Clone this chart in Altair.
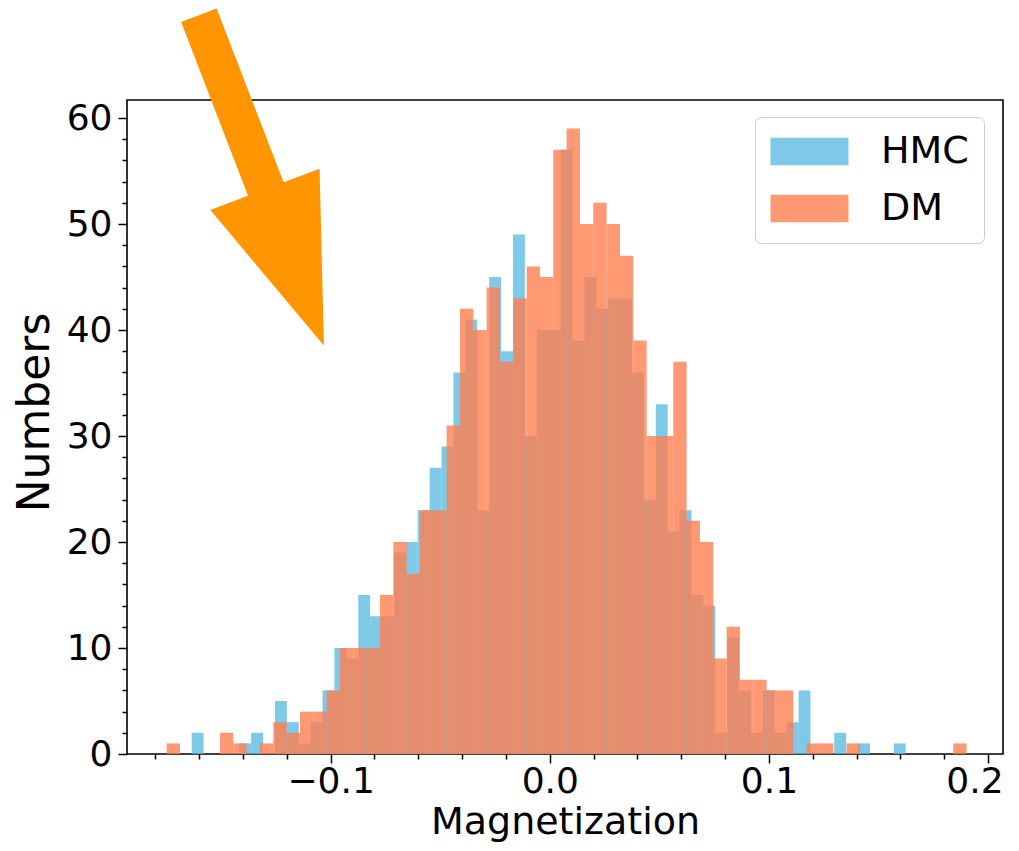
import altair as alt
import numpy as np
import pandas as pd

# ---- data (counts per bin, 60 bins each) ----
hmc_counts = [2, 0, 0, 0, 1, 2, 0, 5, 3, 1,
              3, 6, 10, 9, 15, 13, 13, 19, 20, 23,
              27, 29, 36, 41, 23, 45, 38, 49, 30, 40,
              40, 57, 39, 45, 42, 43, 43, 36, 24, 33,
              21, 23, 15, 14, 2, 11, 6, 2, 6, 2,
              3, 6, 0, 0, 2, 0, 1, 0, 0, 1]
dm_counts = [1, 0, 0, 0, 2, 1, 0, 1, 3, 2,
             4, 4, 6, 10, 10, 10, 15, 20, 17, 23,
             23, 31, 42, 40, 44, 37, 43, 46, 45, 57,
             59, 50, 52, 50, 47, 39, 30, 30, 37, 22,
             20, 9, 12, 7, 7, 6, 6, 0, 1, 1,
             0, 1, 0, 0, 0, 0, 0, 0, 0, 1]
hmc_range = [-0.1634, 0.1624]
dm_range = [-0.1748, 0.1902]
series_names = ["HMC", "DM"]
x_ticks = [round(i * 0.02, 2) for i in range(-9, 11)]
y_ticks = list(range(0, 61, 2))

# arrow annotation (data coordinates)
arrow_shaft_x = [-0.1601, -0.1277]
arrow_shaft_y = [69.7, 52.3]
arrow_head_x = [-0.1165]
arrow_head_y = [45.9]

rows = []
for name, counts, (lo, hi) in [("HMC", hmc_counts, hmc_range), ("DM", dm_counts, dm_range)]:
    edges = np.linspace(lo, hi, len(counts) + 1)
    for i, c in enumerate(counts):
        if c > 0:
            rows.append({"series": name, "start": edges[i], "end": edges[i + 1], "count": c, "zero": 0})
df = pd.DataFrame(rows)
shaft_df = pd.DataFrame({"start": arrow_shaft_x, "count": arrow_shaft_y, "o": [0, 1]})
head_df = pd.DataFrame({"start": arrow_head_x, "count": arrow_head_y})

FONT = "DejaVu Sans"
x_scale = alt.Scale(domain=[-0.1929, 0.2068], nice=False, zero=False)
y_scale = alt.Scale(domain=[0, 61.7], nice=False, zero=False)

x_major = "abs(datum.value*10 - round(datum.value*10)) < 1e-6"
y_major = "datum.value % 10 == 0"

x_axis = alt.Axis(values=x_ticks, title="Magnetization",
                  labelExpr=f"{x_major} ? replace(format(datum.value, '.1f'), '-', '\u2212') : ''",
                  tickSize={"condition": {"test": x_major, "value": 9}, "value": 5},
                  tickWidth=1.5, tickColor="black", domain=False, grid=False,
                  labelFont=FONT, labelFontSize=36, labelColor="black", labelPadding=1,
                  labelFlush=20, labelFlushOffset=15,
                  titleFont=FONT, titleFontSize=38, titleFontWeight="normal", titleColor="black",
                  titlePadding=4, labelOverlap=False)
y_axis = alt.Axis(values=y_ticks, title="Numbers",
                  labelExpr=f"{y_major} ? format(datum.value, 'd') : ''",
                  tickSize={"condition": {"test": y_major, "value": 9}, "value": 5},
                  tickWidth=1.5, tickColor="black", domain=False, grid=False,
                  labelFont=FONT, labelFontSize=36, labelColor="black", labelPadding=6,
                  titleFont=FONT, titleFontSize=44, titleFontWeight="normal", titleColor="black",
                  titlePadding=9, titleY=312, labelFlush=False, labelOverlap=False)

color_scale = alt.Scale(domain=series_names, range=["#5EBAE2", "#FF7F50"])
legend = alt.Legend(title=None, orient="none", legendX=628, legendY=17,
                    symbolType="M-2,-0.7L2,-0.7L2,0.7L-2,0.7Z", symbolSize=1521,
                    symbolOffset=20, symbolOpacity=0.8, symbolStrokeWidth=0,
                    labelFont=FONT, labelFontSize=38, labelColor="black", labelOffset=52,
                    padding=15, rowPadding=18, strokeColor="#cccccc", cornerRadius=6,
                    fillColor="white")

def bars(name):
    return alt.Chart(df[df["series"] == name]).mark_bar(opacity=0.8, strokeWidth=0).encode(
        x=alt.X("start:Q", scale=x_scale, axis=x_axis),
        x2="end:Q",
        y=alt.Y("count:Q", scale=y_scale, axis=y_axis),
        y2="zero:Q",
        color=alt.Color("series:N", scale=color_scale, legend=legend),
    )

shaft = alt.Chart(shaft_df).mark_line(color="#FF9500", strokeWidth=38, strokeCap="butt").encode(
    x=alt.X("start:Q", scale=x_scale, axis=x_axis),
    y=alt.Y("count:Q", scale=y_scale, axis=y_axis),
    order="o:Q",
)
head = alt.Chart(head_df).mark_point(
    filled=True, color="#FF9500", opacity=1, strokeWidth=0,
    shape="M-0.7,-1L0.7,-1L0,1Z", size=27822, angle=339.3,
).encode(
    x=alt.X("start:Q", scale=x_scale, axis=x_axis),
    y=alt.Y("count:Q", scale=y_scale, axis=y_axis),
)

chart = alt.layer(bars("HMC"), bars("DM"), shaft, head).properties(
    width=876, height=654,
    autosize=alt.AutoSizeParams(type="none"),
    padding={"left": 119, "top": 92, "right": 8, "bottom": 89},
    background="white",
).configure_view(stroke="black", strokeWidth=1.6)

chart.save("out.html", embed_options={"renderer": "svg", "actions": False})
